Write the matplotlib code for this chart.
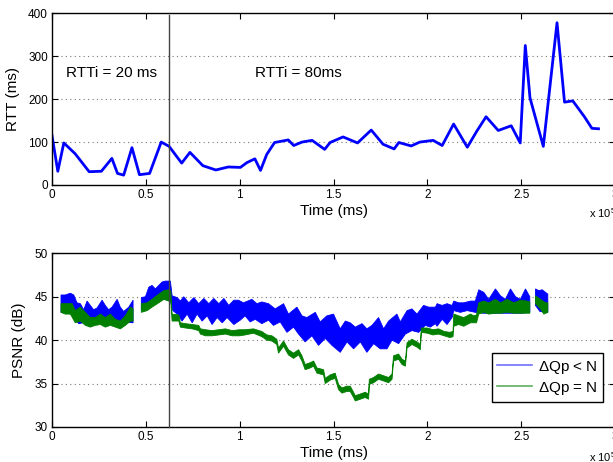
import matplotlib
matplotlib.use("Agg")
import matplotlib.pyplot as plt
import matplotlib.transforms as mtransforms
from matplotlib.lines import Line2D

plt.rcParams["font.family"] = ["Liberation Sans", "DejaVu Sans"]

# ---- top panel: RTT samples (time in units of 1e5 ms) ----
rtt_time = [0.000, 0.031, 0.063, 0.123, 0.198, 0.263, 0.319, 0.349, 0.382, 0.426,
            0.466, 0.520, 0.582, 0.624, 0.691, 0.735, 0.804, 0.873, 0.939, 1.004,
            1.038, 1.081, 1.111, 1.144, 1.186, 1.259, 1.288, 1.332, 1.386, 1.453,
            1.482, 1.551, 1.628, 1.701, 1.764, 1.823, 1.848, 1.914, 1.960, 2.031,
            2.079, 2.140, 2.213, 2.263, 2.313, 2.378, 2.447, 2.495, 2.522, 2.547,
            2.618, 2.691, 2.731, 2.775, 2.837, 2.877, 2.912]
rtt_ms = [115, 32, 98, 73, 31, 32, 62, 27, 23, 87,
          24, 27, 100, 90, 51, 76, 45, 35, 42, 41,
          52, 61, 34, 71, 99, 105, 92, 100, 104, 83,
          99, 112, 98, 128, 95, 84, 99, 91, 100, 104,
          92, 142, 88, 125, 159, 127, 138, 98, 325, 203,
          90, 378, 193, 196, 159, 132, 131]

# ---- bottom panel: PSNR bands (upper / lower envelopes per segment) ----
blue1_up_t = [0.048, 0.071, 0.098, 0.116, 0.133, 0.151, 0.169, 0.187, 0.204, 0.222,
              0.240, 0.267, 0.284, 0.302, 0.320, 0.347, 0.364, 0.382, 0.409, 0.432]
blue1_up = [45.2, 45.2, 45.4, 45.2, 44.3, 44.2, 43.5, 44.5, 44.0, 43.5,
            43.7, 44.6, 44.0, 43.5, 43.8, 44.7, 43.8, 43.3, 43.8, 44.6]
blue1_lo_t = [0.048, 0.107, 0.142, 0.213, 0.284, 0.356, 0.427, 0.432]
blue1_lo = [43.2, 43.0, 41.9, 42.2, 42.2, 42.2, 42.0, 42.0]

blue2_up_t = [0.476, 0.498, 0.516, 0.533, 0.551, 0.569, 0.587, 0.604, 0.631, 0.640,
              0.667, 0.684, 0.702, 0.729, 0.756, 0.782, 0.809, 0.836, 0.862, 0.889,
              0.916, 0.942, 0.969, 0.994, 1.020, 1.065, 1.092, 1.118, 1.154, 1.189,
              1.234, 1.260, 1.305, 1.332, 1.358, 1.403, 1.429, 1.465, 1.500, 1.536,
              1.563, 1.589, 1.616, 1.652, 1.678, 1.705, 1.740, 1.767, 1.794, 1.838,
              1.856, 1.892, 1.918, 1.945, 1.980, 2.007, 2.043, 2.052, 2.079, 2.105,
              2.132, 2.141, 2.167, 2.194, 2.230, 2.256, 2.274, 2.301, 2.327, 2.363,
              2.390, 2.416, 2.443, 2.470, 2.496, 2.523, 2.541, 2.546]
blue2_up = [44.9, 45.0, 46.1, 46.3, 45.9, 46.3, 46.7, 46.8, 46.8, 45.1,
            44.9, 44.5, 45.0, 44.3, 44.9, 44.2, 44.8, 44.2, 44.8, 44.2,
            44.8, 44.0, 44.6, 44.6, 44.3, 44.7, 44.2, 44.4, 44.2, 43.6,
            44.2, 43.0, 43.8, 42.8, 42.6, 43.2, 42.1, 42.8, 43.0, 41.3,
            42.2, 42.0, 41.5, 41.9, 41.3, 41.7, 42.6, 41.3, 42.2, 43.0,
            42.1, 43.4, 43.6, 43.0, 44.0, 43.8, 43.8, 44.2, 44.0, 44.2,
            44.0, 44.5, 44.3, 44.3, 44.5, 44.5, 45.8, 45.5, 44.7, 45.9,
            45.1, 44.7, 45.9, 45.0, 44.7, 45.9, 45.2, 45.0]
blue2_lo_t = [0.476, 0.507, 0.533, 0.569, 0.604, 0.631, 0.644, 0.667, 0.693, 0.720,
              0.747, 0.773, 0.800, 0.827, 0.853, 0.880, 0.907, 0.933, 0.969, 1.003,
              1.029, 1.056, 1.083, 1.118, 1.154, 1.180, 1.216, 1.252, 1.287, 1.314,
              1.349, 1.385, 1.420, 1.456, 1.492, 1.536, 1.572, 1.607, 1.643, 1.678,
              1.714, 1.749, 1.785, 1.812, 1.847, 1.883, 1.918, 1.954, 1.989, 2.016,
              2.043, 2.052, 2.079, 2.105, 2.132, 2.141, 2.176, 2.212, 2.256, 2.300,
              2.400, 2.500, 2.546]
blue2_lo = [43.5, 44.0, 44.2, 44.7, 44.7, 44.5, 43.4, 43.0, 42.2, 43.0,
            42.0, 43.0, 42.2, 42.8, 41.8, 42.6, 42.0, 42.6, 41.8, 42.3,
            42.8, 42.1, 42.4, 41.9, 42.3, 41.7, 42.1, 40.9, 41.5, 40.7,
            39.8, 40.5, 39.4, 40.2, 39.4, 38.6, 39.8, 39.0, 39.8, 38.6,
            39.6, 39.0, 39.0, 40.0, 39.6, 40.7, 41.1, 40.9, 41.7, 41.5,
            41.9, 41.6, 42.4, 41.8, 42.6, 43.4, 43.2, 43.4, 43.2, 43.1,
            43.1, 43.1, 43.2]

blue3_up_t = [2.576, 2.594, 2.612, 2.630, 2.642]
blue3_up = [45.9, 45.7, 45.8, 45.5, 45.3]
blue3_lo_t = [2.576, 2.600, 2.642]
blue3_lo = [44.0, 43.3, 43.2]

green1_up_t = [0.048, 0.071, 0.107, 0.124, 0.151, 0.178, 0.204, 0.231, 0.258, 0.284,
               0.311, 0.338, 0.364, 0.391, 0.418, 0.432]
green1_up = [44.2, 44.2, 44.2, 43.4, 43.8, 43.2, 42.6, 42.6, 43.0, 42.6,
             43.0, 42.4, 42.2, 42.8, 43.8, 43.6]
green1_lo_t = [0.048, 0.071, 0.098, 0.124, 0.151, 0.178, 0.204, 0.231, 0.258, 0.284,
               0.311, 0.338, 0.364, 0.391, 0.418, 0.432]
green1_lo = [43.2, 43.0, 43.0, 42.0, 42.2, 41.7, 41.5, 41.7, 41.8, 41.5,
             41.7, 41.5, 41.3, 41.7, 42.2, 42.2]

green2_t = [0.476, 0.507, 0.533, 0.569, 0.596, 0.622, 0.633, 0.640, 0.676, 0.684,
            0.711, 0.747, 0.782, 0.791, 0.818, 0.853, 0.889, 0.924, 0.960, 1.000,
            1.029, 1.074, 1.118, 1.145, 1.172, 1.198, 1.207, 1.234, 1.260, 1.287,
            1.314, 1.332, 1.349, 1.376, 1.394, 1.412, 1.447, 1.456, 1.483, 1.509,
            1.527, 1.545, 1.572, 1.589, 1.607, 1.616, 1.643, 1.669, 1.687, 1.691,
            1.714, 1.740, 1.767, 1.794, 1.812, 1.820, 1.847, 1.865, 1.883, 1.892,
            1.918, 1.945, 1.963, 1.968, 2.000, 2.030, 2.060, 2.090, 2.120, 2.137,
            2.141, 2.167, 2.194, 2.230, 2.248, 2.262, 2.274, 2.301, 2.327, 2.363,
            2.390, 2.425, 2.461, 2.496, 2.532, 2.546]
green2_up = [44.2, 44.3, 44.7, 45.3, 45.7, 45.8, 45.7, 43.0, 42.9, 42.0,
             41.9, 41.8, 41.7, 41.3, 41.2, 41.1, 41.2, 41.3, 41.1, 41.2,
             41.2, 41.3, 41.0, 40.6, 40.5, 40.1, 39.1, 39.9, 38.9, 38.5,
             38.9, 38.2, 37.2, 37.4, 37.6, 36.8, 36.6, 35.6, 36.0, 36.2,
             34.9, 34.5, 34.7, 34.7, 34.0, 33.6, 33.8, 34.0, 33.8, 35.5,
             35.7, 36.1, 35.9, 35.7, 36.1, 38.2, 38.4, 37.8, 37.6, 39.7,
             40.1, 39.8, 39.5, 41.4, 41.4, 41.2, 41.3, 41.0, 40.9, 41.0,
             43.0, 42.8, 42.6, 43.0, 42.8, 42.9, 44.3, 44.5, 44.3, 44.7,
             44.3, 44.7, 44.3, 44.6, 44.5, 44.4]
green2_lo = [43.2, 43.4, 43.8, 44.3, 44.7, 44.5, 44.5, 42.2, 42.2, 41.5,
             41.4, 41.3, 41.1, 40.7, 40.5, 40.5, 40.6, 40.7, 40.5, 40.5,
             40.6, 40.8, 40.4, 40.0, 39.9, 39.5, 38.5, 39.3, 38.3, 37.9,
             38.3, 37.6, 36.6, 36.8, 37.0, 36.2, 36.0, 35.0, 35.4, 35.6,
             34.3, 33.9, 34.1, 34.1, 33.4, 33.0, 33.2, 33.4, 33.2, 34.9,
             35.1, 35.5, 35.3, 35.1, 35.5, 37.6, 37.8, 37.2, 37.0, 39.1,
             39.5, 39.2, 38.9, 40.9, 40.8, 40.6, 40.7, 40.5, 40.3, 40.4,
             41.6, 41.8, 41.6, 42.0, 42.0, 42.0, 43.0, 43.2, 43.0, 43.1,
             43.1, 43.2, 43.1, 43.1, 43.1, 43.1]

green3_up_t = [2.576, 2.603, 2.630, 2.642]
green3_up = [45.1, 44.7, 44.3, 44.3]
green3_lo_t = [2.576, 2.603, 2.621, 2.642]
green3_lo = [44.2, 43.6, 43.0, 43.2]

x_ticks = [0, 0.5, 1, 1.5, 2, 2.5, 3]
x_ticklabels = ["0", "0.5", "1", "1.5", "2", "2.5", "3"]
rtt_ticks = [0, 100, 200, 300, 400]
psnr_ticks = [30, 35, 40, 45, 50]
switch_time = 0.625

BLUE = "#0000ff"
GREEN = "#007f00"

W, H = 613, 462
fig = plt.figure(figsize=(W / 100, H / 100), dpi=100)
ax1 = fig.add_axes([52 / W, 1 - 185 / H, 563 / W, 171.7 / H])
ax2 = fig.add_axes([52 / W, 1 - 427 / H, 563 / W, 173.7 / H])


def style(ax, yticks):
    ax.set_xlim(0, 3)
    ax.set_xticks(x_ticks)
    ax.set_xticklabels(x_ticklabels)
    ax.set_yticks(yticks)
    ax.set_ylim(yticks[0], yticks[-1])
    ax.tick_params(direction="in", top=True, right=True, length=4, width=0.8,
                   labelsize=8.5, pad=3)
    for s in ax.spines.values():
        s.set_linewidth(1.0)
    ax.yaxis.grid(True, linestyle=(0, (1, 3)), color="#777777", linewidth=0.8)
    ax.set_axisbelow(True)
    ax.set_xlabel("Time (ms)", fontsize=11, labelpad=2)


# top: RTT
ax1.plot(rtt_time, rtt_ms, color=BLUE, linewidth=2.0)
style(ax1, rtt_ticks)
ax1.set_ylabel("RTT (ms)", fontsize=11, labelpad=6)
ax1.text(0.075, 262, "RTTi = 20 ms", fontsize=11, va="center")
ax1.text(1.08, 262, "RTTi = 80ms", fontsize=11, va="center")


def band(ax, t_up, up, t_lo, lo, color):
    ax.fill(list(t_up) + list(t_lo)[::-1], list(up) + list(lo)[::-1],
            color=color, linewidth=0.6)


# bottom: PSNR
band(ax2, blue1_up_t, blue1_up, blue1_lo_t, blue1_lo, BLUE)
band(ax2, blue2_up_t, blue2_up, blue2_lo_t, blue2_lo, BLUE)
band(ax2, blue3_up_t, blue3_up, blue3_lo_t, blue3_lo, BLUE)
band(ax2, green1_up_t, green1_up, green1_lo_t, green1_lo, GREEN)
band(ax2, green2_t, green2_up, green2_t, green2_lo, GREEN)
band(ax2, green3_up_t, green3_up, green3_lo_t, green3_lo, GREEN)
style(ax2, psnr_ticks)
ax2.set_ylabel("PSNR (dB)", fontsize=11, labelpad=6)

handles = [Line2D([], [], color="#6f6fff", linewidth=1.2),
           Line2D([], [], color="#5fae5f", linewidth=1.2)]
leg = ax2.legend(handles, [r"$\Delta$Qp < N", r"$\Delta$Qp = N"],
                 loc="lower right", bbox_to_anchor=(0.979, 0.144),
                 borderaxespad=0, fontsize=11, handlelength=2.3,
                 fancybox=False, framealpha=1, edgecolor="black",
                 borderpad=0.35, labelspacing=0.25, handletextpad=0.4)
leg.get_frame().set_linewidth(1.0)
plt.rcParams["mathtext.default"] = "regular"

# switch marker spanning both panels
trans = mtransforms.blended_transform_factory(ax2.transData, fig.transFigure)
fig.add_artist(Line2D([switch_time, switch_time], [1 - 427 / H, 1 - 15 / H],
                      transform=trans, color="#444444", linewidth=1.0))

fig.text(589 / W, 1 - 213 / H, r"x 10$^5$", fontsize=8, va="center")
fig.text(589 / W, 1 - 457 / H, r"x 10$^5$", fontsize=8, va="center")

fig.savefig("out.png", dpi=100)
